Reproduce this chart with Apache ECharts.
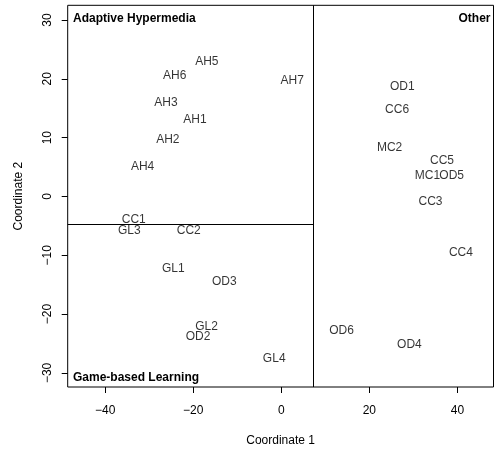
<!DOCTYPE html>
<html>
<head>
<meta charset="utf-8">
<script src="https://cdn.jsdelivr.net/npm/echarts@6/dist/echarts.min.js"></script>
<style>html,body{margin:0;padding:0;background:#fff;}#c{width:495px;height:452px;}</style>
</head>
<body>
<div id="c"></div>
<script>
var names = ['AH1','AH2','AH3','AH4','AH5','AH6','AH7',
             'CC1','CC2','CC3','CC4','CC5','CC6',
             'GL1','GL2','GL3','GL4',
             'MC1','MC2',
             'OD1','OD2','OD3','OD4','OD5','OD6'];
var xs = [-19.6,-25.75,-26.2,-31.5,-16.9,-24.2,2.5,
          -33.5,-21.0,33.9,40.8,36.5,26.3,
          -24.5,-16.95,-34.5,-1.6,
          33.2,24.6,
          27.5,-18.9,-12.95,29.1,38.7,13.7];
var ys = [13.1,9.6,15.9,5.1,22.9,20.5,19.6,
          -4.0,-5.8,-0.85,-9.6,6.1,14.8,
          -12.3,-22.1,-5.8,-27.6,
          3.6,8.3,
          18.6,-23.8,-14.5,-25.2,3.6,-22.75];
var xTicks = [-40,-20,0,20,40];
var yTicks = [-30,-20,-10,0,10,20,30];
var xRange = [-48.5, 48.2];
var yRange = [-32.4, 32.5];
var divX = 7.3;
var divY = -4.8;
var regionLabels = ['Adaptive Hypermedia','Other','Game-based Learning'];

var FONT = '"Liberation Sans", Arial, Helvetica, sans-serif';
var chart = echarts.init(document.getElementById('c'), null, {renderer:'canvas'});
var pts = names.map(function(n,i){ return [xs[i], ys[i], n]; });
function minus(v){ return String(v).replace('-', '\u2212'); }

chart.setOption({
  animation:false,
  backgroundColor:'#fff',
  grid:{left:67.7, right:1.5, top:5.3, bottom:64.3, show:true, borderColor:'#000', borderWidth:1, backgroundColor:'transparent'},
  xAxis:{type:'value', min:xRange[0], max:xRange[1],
    name:'Coordinate 1', nameLocation:'middle', nameGap:48,
    nameTextStyle:{color:'#000', fontSize:12, fontFamily:FONT},
    axisLine:{show:false, onZero:false}, splitLine:{show:false},
    axisTick:{show:true, inside:false, length:6, lineStyle:{color:'#000'}, customValues:xTicks},
    axisLabel:{show:true, color:'#000', fontSize:12, fontFamily:FONT, margin:18, customValues:xTicks, formatter:minus}
  },
  yAxis:{type:'value', min:yRange[0], max:yRange[1],
    name:'Coordinate 2', nameLocation:'middle', nameGap:43, nameRotate:90,
    nameTextStyle:{color:'#000', fontSize:12, fontFamily:FONT},
    axisLine:{show:false, onZero:false}, splitLine:{show:false},
    axisTick:{show:true, inside:false, length:6, lineStyle:{color:'#000'}, customValues:yTicks},
    axisLabel:{show:true, color:'#000', fontSize:12, fontFamily:FONT, margin:14, rotate:90, customValues:yTicks, formatter:minus}
  },
  series:[{
    type:'scatter', data:pts, symbolSize:1, itemStyle:{color:'rgba(0,0,0,0)'},
    label:{show:true, position:'inside', align:'center', verticalAlign:'middle', color:'#000', fontSize:12, fontFamily:FONT,
      formatter:function(p){ return p.value[2]; }},
    markLine:{silent:true, symbol:['none','none'], label:{show:false},
      lineStyle:{color:'#000', width:1, type:'solid'},
      data:[
        [{coord:[divX, yRange[0]]},{coord:[divX, yRange[1]]}],
        [{coord:[xRange[0], divY]},{coord:[divX, divY]}]
      ]}
  }],
  graphic:[
    {type:'text', left:73, top:13, style:{text:regionLabels[0], font:'bold 12px '+FONT, fill:'#000'}},
    {type:'text', right:4.5, top:13, style:{text:regionLabels[1], font:'bold 12px '+FONT, fill:'#000'}},
    {type:'text', left:73, top:371.5, style:{text:regionLabels[2], font:'bold 12px '+FONT, fill:'#000'}}
  ]
});
</script>
</body>
</html>
